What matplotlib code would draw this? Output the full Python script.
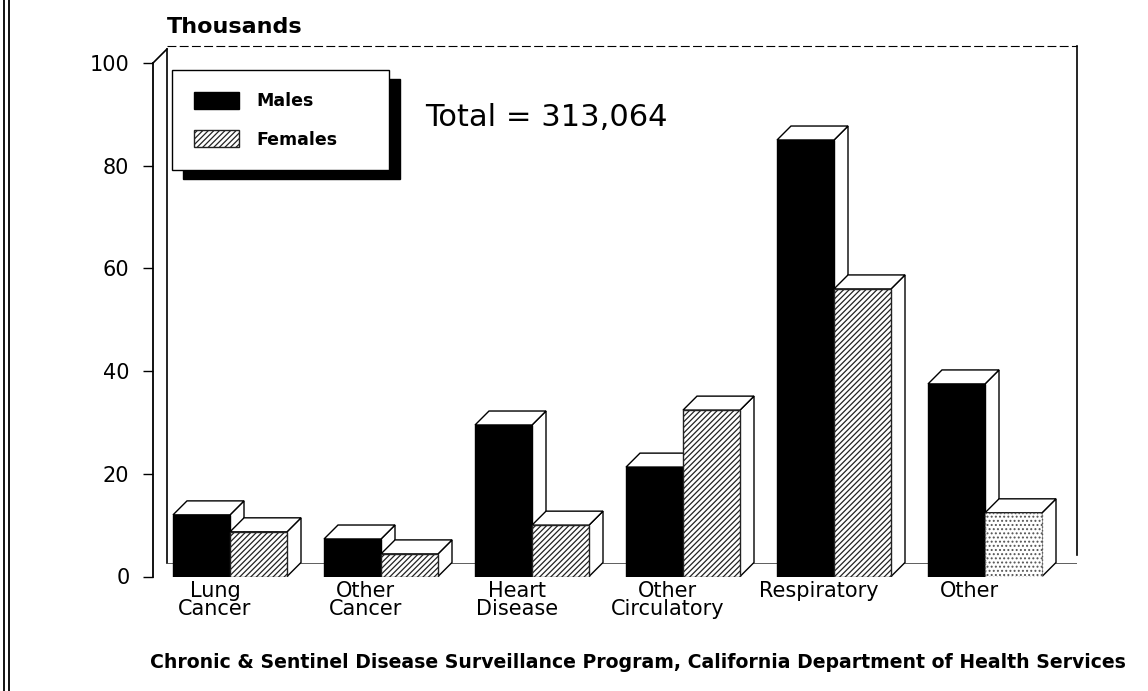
import matplotlib
matplotlib.use('Agg')
import matplotlib.pyplot as plt
from matplotlib.patches import Polygon, Rectangle
from matplotlib.lines import Line2D
from matplotlib.transforms import IdentityTransform

# ---------------- data ----------------
categories = ['Lung\nCancer', 'Other\nCancer', 'Heart\nDisease',
              'Other\nCirculatory', 'Respiratory', 'Other']
males = [12.0, 7.3, 29.5, 21.3, 85.0, 37.5]
females = [8.7, 4.4, 10.0, 32.4, 56.0, 12.4]
yticks = [0, 20, 40, 60, 80, 100]
series_labels = ['Males', 'Females']
total_label = 'Total = 313,064'
unit_label = 'Thousands'
source = ('Chronic & Sentinel Disease Surveillance Program, '
          'California Department of Health Services')

# ---------------- layout ----------------
W, H = 1148, 691
plt.rcParams['font.family'] = ['DejaVu Sans']
plt.rcParams['hatch.linewidth'] = 0.9
plt.rcParams['hatch.color'] = '#262626'

fig = plt.figure(figsize=(W / 100, H / 100), dpi=100)
fig.patch.set_facecolor('white')

ax_left_px, ax_right_px = 153, 1077
y0_px, y100_px, top_px = 576.5, 63, 40
ppu = (y0_px - y100_px) / 100.0           # pixels per data unit (y)
group_px = 151.0                          # pixels per group
first_px = 230.0                          # pixel of group 0 centre

ax = fig.add_axes([ax_left_px / W, (H - y0_px) / H,
                   (ax_right_px - ax_left_px) / W, (y0_px - top_px) / H])
xmin = (ax_left_px - first_px) / group_px
xmax = (ax_right_px - first_px) / group_px
ymax = (y0_px - top_px) / ppu
ax.set_xlim(xmin, xmax)
ax.set_ylim(0, ymax)

bw = 57 / group_px          # bar width (data units)
ddx = 14 / group_px         # depth offset x
ddy = 14 / ppu              # depth offset y

xs = list(range(len(categories)))
male_x = [x - bw / 2 for x in xs]
female_x = [x + bw / 2 for x in xs]

def faces(xc, h, z, ls='-'):
    x0, x1 = xc - bw / 2, xc + bw / 2
    side = Polygon([(x1, 0), (x1 + ddx, ddy), (x1 + ddx, h + ddy), (x1, h)],
                   closed=True, facecolor='white', edgecolor='black',
                   linewidth=1.0, zorder=z, linestyle=ls)
    top = Polygon([(x0, h), (x1, h), (x1 + ddx, h + ddy), (x0 + ddx, h + ddy)],
                  closed=True, facecolor='white', edgecolor='black',
                  linewidth=1.0, zorder=z, linestyle=ls)
    ax.add_patch(side)
    ax.add_patch(top)

# back wall / floor lines (drawn behind bars)
line_kw = dict(color='black', linewidth=1.2, clip_on=False, zorder=1)
ax.plot([xmin + ddx, xmin + ddx], [ddy, 100 + ddy], **line_kw)
ax.plot([xmin, xmin + ddx], [100, 100 + ddy], **line_kw)
ax.plot([xmin + ddx, xmax], [100 + ddy + 0.5, 100 + ddy + 0.5],
        color='black', linewidth=0.8, linestyle=(0, (8, 3)), clip_on=False, zorder=1)
ax.plot([xmax, xmax], [ddy + 1.5, 100 + ddy + 0.5], **line_kw)
ax.plot([xmin + ddx, xmax], [ddy, ddy], color='#444444', linewidth=0.6, zorder=1)

male_bars = ax.bar(male_x, males, width=bw, color='black', edgecolor='black',
                   linewidth=1.0, zorder=3, label=series_labels[0])
female_bars = ax.bar(female_x, females, width=bw, color='white',
                     edgecolor='#222222', hatch='//////', linewidth=1.0,
                     zorder=5, label=series_labels[1])

for xm, hm in zip(male_x, males):
    faces(xm, hm, 2)
for xf, hf in zip(female_x, females):
    faces(xf, hf, 4)

# faded last female bar (as in the scanned original)
last = female_bars.patches[-1]
last.set_hatch('....')
last.set_edgecolor('#555555')
last.set_linestyle(':')

# ---------------- axes styling ----------------
for s in ['top', 'right', 'bottom']:
    ax.spines[s].set_visible(False)
ax.spines['left'].set_bounds(0, 100)
ax.spines['left'].set_linewidth(1.3)
ax.set_yticks(yticks)
ax.set_yticklabels([str(t) for t in yticks])
ax.tick_params(axis='y', length=7, width=1, pad=10, labelsize=15, direction='out')
ax.set_xticks([x - 0.1 for x in xs])
ax.set_xticklabels(categories, fontsize=15, linespacing=0.92)
ax.tick_params(axis='x', length=0, pad=3)

# ---------------- legend ----------------
fs = 12.5
lx0, lx1, ly0, ly1 = 172, 389, 70, 172
leg = ax.legend(handles=[male_bars, female_bars], labels=series_labels,
                loc='upper left', mode='expand',
                bbox_to_anchor=(lx0 / W, 1 - ly1 / H, (lx1 - lx0) / W, (ly1 - ly0) / H),
                bbox_transform=fig.transFigure, borderaxespad=0,
                prop={'weight': 'bold', 'size': fs},
                handlelength=2.6, handleheight=1.15, handletextpad=1.0,
                borderpad=1.25, labelspacing=1.15, fancybox=False,
                frameon=True, edgecolor='black', framealpha=1, shadow=False)
leg.get_frame().set_linewidth(1.0)
leg.set_zorder(20)

fig.canvas.draw()
bb = leg.get_frame().get_window_extent()
shadow = Rectangle((bb.x0 + 11, bb.y0 - 9), bb.width, bb.height,
                   transform=IdentityTransform(), facecolor='black',
                   edgecolor='black', zorder=19, clip_on=False)
ax.add_patch(shadow)

# ---------------- texts ----------------
fig.text(167 / W, 1 - 27 / H, unit_label, fontsize=16, fontweight='bold',
         ha='left', va='center')
fig.text(425 / W, 1 - 117 / H, total_label, fontsize=22, ha='left', va='center')
fig.text(638 / W, 1 - 662 / H, source, fontsize=13.6, fontweight='bold',
         ha='center', va='center')

# page border (double line on the left)
for xp in (3.5, 8.5):
    fig.add_artist(Line2D([xp / W, xp / W], [0, 1], color='black',
                          linewidth=1.3, transform=fig.transFigure))

fig.savefig('out.png', dpi=100, facecolor='white')
